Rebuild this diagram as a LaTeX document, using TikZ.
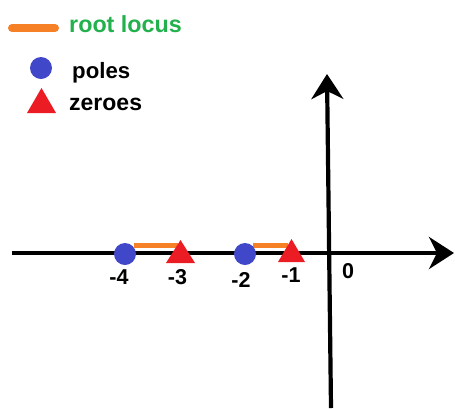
\documentclass[tikz,border=0pt]{standalone}
\usepackage{fontspec}
\setmainfont{Liberation Sans}
\usetikzlibrary{arrows.meta}
\definecolor{poleblue}{RGB}{64,72,201}
\definecolor{zerored}{RGB}{236,28,36}
\definecolor{locusorange}{RGB}{245,128,37}
\definecolor{locusgreen}{RGB}{34,177,76}
\begin{document}
\begin{tikzpicture}[x=1pt,y=-1pt,
  lbl/.style={font=\fontsize{21.5}{25}\selectfont\bfseries, inner sep=0pt},
  pole/.style={circle, fill=poleblue, minimum size=22pt, inner sep=0pt},
  zero/.style={fill=zerored},
  axis/.style={line width=4.2pt, -{Stealth[length=25pt,width=32pt,inset=8pt]}},
  locus/.style={locusorange, line width=5pt}]
\useasboundingbox (0,0) rectangle (455,408);
% legend
\coordinate (lgA) at (12,28);
\coordinate (lgB) at (55,28);
\draw[locusorange, line width=8pt, line cap=round] (lgA) -- (lgB);
\node[lbl, anchor=base west, text=locusgreen, font=\fontsize{23.3}{27}\selectfont\bfseries] (tlocus) at (69,32) {root locus};
\node[pole] (lgpole) at (41,68) {};
\node[lbl, anchor=base west, font=\fontsize{22.2}{26}\selectfont\bfseries] (tpoles) at (72,78) {poles};
\fill[zero] (27,113) -- (41.5,88) -- (56,113) -- cycle;
\node[lbl, anchor=base west, font=\fontsize{23}{26}\selectfont\bfseries] (tzeroes) at (69,110) {zeroes};
% axes
\coordinate (xl) at (12,253);
\coordinate (xr) at (454,253);
\coordinate (yb) at (331,408);
\coordinate (yt) at (327,74);
\draw[axis] (xl) -- (xr);
\draw[axis] (yb) -- (yt);
% root locus segments
\coordinate (l1a) at (134,245);
\coordinate (l1b) at (178,245);
\coordinate (l2a) at (253,245);
\coordinate (l2b) at (288,245);
\draw[locus] (l1a) -- (l1b);
\draw[locus] (l2a) -- (l2b);
% poles
\node[pole] (p4) at (125,254) {};
\node[pole] (p2) at (245,254) {};
% zeroes
\fill[zero] (166,263) -- (180.5,240) -- (195,263) -- cycle;
\fill[zero] (278,262) -- (291.5,239) -- (305,262) -- cycle;
% labels
\node[lbl] (n4) at (119,277.5) {-4};
\node[lbl] (n3) at (177.5,277.5) {-3};
\node[lbl] (n2) at (241,279.5) {-2};
\node[lbl] (n1) at (291,275) {-1};
\node[lbl] (n0) at (348,271.5) {0};
\end{tikzpicture}
\end{document}
